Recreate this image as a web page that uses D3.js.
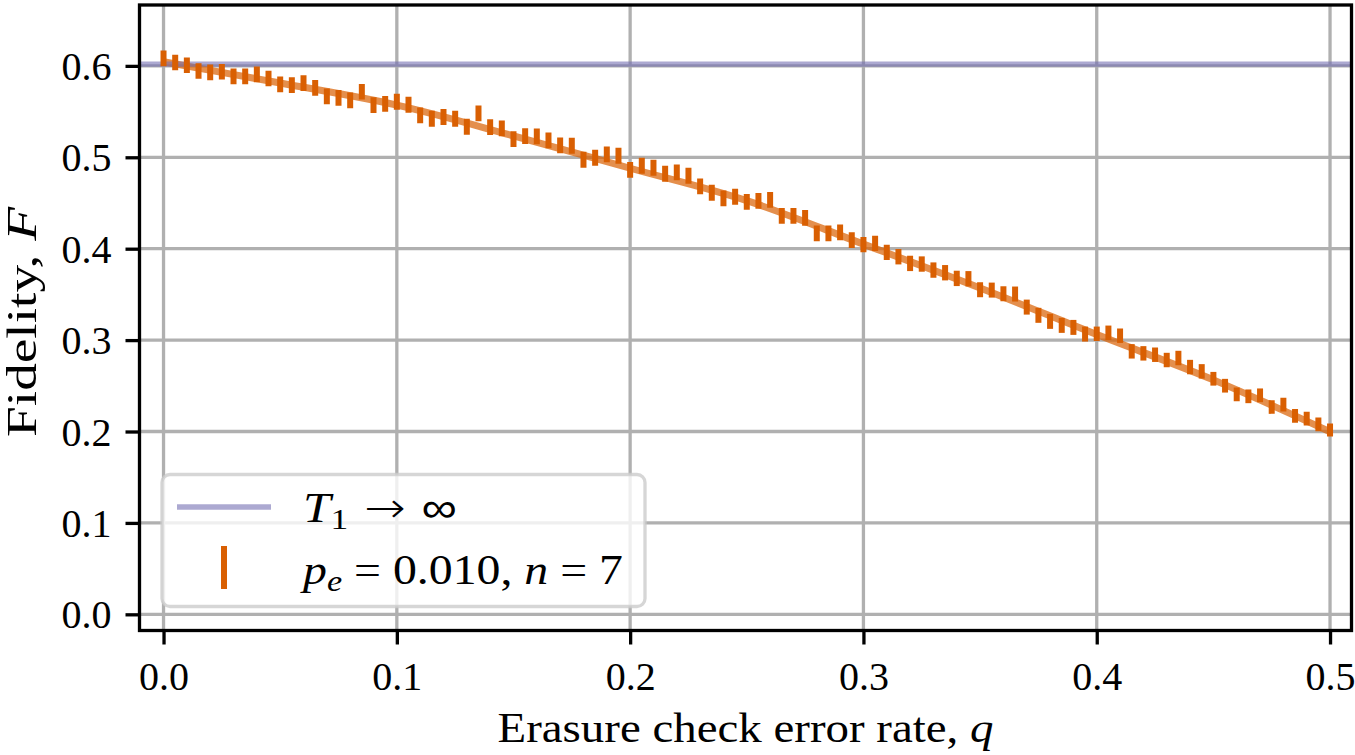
<!DOCTYPE html>
<html>
<head>
<meta charset="utf-8">
<script src="https://cdn.jsdelivr.net/npm/d3@7"></script>
<style>
  html, body { margin: 0; padding: 0; background: #fff; }
  svg { display: block; }
  text { font-family: "Liberation Serif", "Times New Roman", serif; fill: #000; }
</style>
</head>
<body>
<svg id="chart" width="1355" height="755"></svg>
<script>
// ---------------- data ----------------
const qValues = [
  0.000, 0.005, 0.010, 0.015, 0.020, 0.025, 0.030, 0.035, 0.040, 0.045,
  0.050, 0.055, 0.060, 0.065, 0.070, 0.075, 0.080, 0.085, 0.090, 0.095,
  0.100, 0.105, 0.110, 0.115, 0.120, 0.125, 0.130, 0.135, 0.140, 0.145,
  0.150, 0.155, 0.160, 0.165, 0.170, 0.175, 0.180, 0.185, 0.190, 0.195,
  0.200, 0.205, 0.210, 0.215, 0.220, 0.225, 0.230, 0.235, 0.240, 0.245,
  0.250, 0.255, 0.260, 0.265, 0.270, 0.275, 0.280, 0.285, 0.290, 0.295,
  0.300, 0.305, 0.310, 0.315, 0.320, 0.325, 0.330, 0.335, 0.340, 0.345,
  0.350, 0.355, 0.360, 0.365, 0.370, 0.375, 0.380, 0.385, 0.390, 0.395,
  0.400, 0.405, 0.410, 0.415, 0.420, 0.425, 0.430, 0.435, 0.440, 0.445,
  0.450, 0.455, 0.460, 0.465, 0.470, 0.475, 0.480, 0.485, 0.490, 0.495,
  0.500
];
const fidelity = [
  0.6082, 0.6038, 0.6008, 0.5943, 0.5929, 0.5936, 0.5885, 0.5885, 0.5907, 0.5863,
  0.5797, 0.5790, 0.5812, 0.5760, 0.5666, 0.5651, 0.5622, 0.5717, 0.5571, 0.5585,
  0.5607, 0.5574, 0.5458, 0.5421, 0.5440, 0.5421, 0.5334, 0.5480, 0.5330, 0.5316,
  0.5199, 0.5232, 0.5229, 0.5185, 0.5130, 0.5126, 0.4973, 0.4995, 0.5032, 0.5017,
  0.4862, 0.4907, 0.4885, 0.4820, 0.4835, 0.4798, 0.4682, 0.4612, 0.4550, 0.4568,
  0.4513, 0.4524, 0.4535, 0.4360, 0.4360, 0.4338, 0.4168, 0.4168, 0.4179, 0.4094,
  0.4045, 0.4058, 0.3960, 0.3912, 0.3839, 0.3832, 0.3766, 0.3737, 0.3675, 0.3671,
  0.3551, 0.3547, 0.3507, 0.3504, 0.3361, 0.3271, 0.3205, 0.3161, 0.3139, 0.3066,
  0.3069, 0.3080, 0.3048, 0.2877, 0.2855, 0.2840, 0.2782, 0.2804, 0.2705, 0.2658,
  0.2577, 0.2501, 0.2406, 0.2385, 0.2396, 0.2268, 0.2293, 0.2172, 0.2140, 0.2078,
  0.2016
];
const fidelityErr = [
  0.0085, 0.0085, 0.0085, 0.0085, 0.0085, 0.0085, 0.0085, 0.0085, 0.0085, 0.0085,
  0.0086, 0.0086, 0.0086, 0.0086, 0.0086, 0.0086, 0.0086, 0.0086, 0.0086, 0.0086,
  0.0087, 0.0087, 0.0087, 0.0087, 0.0087, 0.0087, 0.0087, 0.0087, 0.0087, 0.0087,
  0.0087, 0.0087, 0.0087, 0.0087, 0.0087, 0.0087, 0.0087, 0.0087, 0.0087, 0.0087,
  0.0087, 0.0087, 0.0087, 0.0087, 0.0087, 0.0087, 0.0087, 0.0087, 0.0087, 0.0087,
  0.0086, 0.0086, 0.0086, 0.0086, 0.0086, 0.0086, 0.0086, 0.0086, 0.0086, 0.0086,
  0.0084, 0.0084, 0.0084, 0.0084, 0.0084, 0.0084, 0.0084, 0.0084, 0.0084, 0.0084,
  0.0082, 0.0082, 0.0082, 0.0082, 0.0082, 0.0082, 0.0082, 0.0082, 0.0082, 0.0082,
  0.0079, 0.0079, 0.0079, 0.0079, 0.0079, 0.0079, 0.0079, 0.0079, 0.0079, 0.0079,
  0.0075, 0.0075, 0.0075, 0.0075, 0.0075, 0.0075, 0.0075, 0.0075, 0.0075, 0.0075,
  0.0071
];
const fitQ = [0.00, 0.05, 0.10, 0.15, 0.20, 0.25, 0.30, 0.35, 0.40, 0.45, 0.50];
const fitF = [0.6045, 0.5812, 0.5570, 0.5235, 0.4880, 0.4525, 0.4050, 0.3570, 0.3060, 0.2565, 0.1997];
const idealFidelity = 0.602;   // T1 -> infinity
const xTicks = [0.0, 0.1, 0.2, 0.3, 0.4, 0.5];
const yTicks = [0.0, 0.1, 0.2, 0.3, 0.4, 0.5, 0.6];
const xDomain = [-0.0103, 0.5092];
const yDomain = [-0.0177, 0.6666];

// ---------------- layout ----------------
const svg = d3.select("#chart");
const plot = { left: 139.5, right: 1351.5, top: 5, bottom: 630.5 };
const FS = 40;
const orange = "#d95f02";
const purple = "#7570b3";

const x = d3.scaleLinear().domain(xDomain).range([plot.left, plot.right]);
const y = d3.scaleLinear().domain(yDomain).range([plot.bottom, plot.top]);

svg.append("defs").append("clipPath").attr("id", "clip")
  .append("rect")
  .attr("x", plot.left).attr("y", plot.top)
  .attr("width", plot.right - plot.left).attr("height", plot.bottom - plot.top);

// grid
const grid = svg.append("g");
grid.selectAll("line.gx").data(xTicks).join("line")
  .attr("x1", d => x(d)).attr("x2", d => x(d))
  .attr("y1", plot.top).attr("y2", plot.bottom)
  .attr("stroke", "#b0b0b0").attr("stroke-width", 3.3);
grid.selectAll("line.gy").data(yTicks).join("line")
  .attr("y1", d => y(d)).attr("y2", d => y(d))
  .attr("x1", plot.left).attr("x2", plot.right)
  .attr("stroke", "#b0b0b0").attr("stroke-width", 3.3);

const data = svg.append("g").attr("clip-path", "url(#clip)");

// fit curve
const fitLine = d3.line()
  .x((d, i) => x(fitQ[i]))
  .y(d => y(d))
  .curve(d3.curveCatmullRom.alpha(0.5));
data.append("path")
  .attr("d", fitLine(fitF))
  .attr("fill", "none")
  .attr("stroke", orange)
  .attr("stroke-opacity", 0.7)
  .attr("stroke-width", 7);

// ideal line
data.append("line")
  .attr("x1", plot.left).attr("x2", plot.right)
  .attr("y1", y(idealFidelity)).attr("y2", y(idealFidelity))
  .attr("stroke", purple).attr("stroke-opacity", 0.6)
  .attr("stroke-width", 5.3);

// error bars
data.selectAll("line.eb").data(fidelity).join("line")
  .attr("class", "eb")
  .attr("x1", (d, i) => x(qValues[i])).attr("x2", (d, i) => x(qValues[i]))
  .attr("y1", (d, i) => y(d - fidelityErr[i]))
  .attr("y2", (d, i) => y(d + fidelityErr[i]))
  .attr("stroke", orange)
  .attr("stroke-width", 6);

// axes
const xAxis = d3.axisBottom(x).tickValues(xTicks).tickFormat(d3.format(".1f"))
  .tickSize(14).tickPadding(13);
const yAxis = d3.axisLeft(y).tickValues(yTicks).tickFormat(d3.format(".1f"))
  .tickSize(14).tickPadding(14);

const gx = svg.append("g").attr("transform", `translate(0,${plot.bottom})`).call(xAxis);
const gy = svg.append("g").attr("transform", `translate(${plot.left},0)`).call(yAxis);
[gx, gy].forEach(g => {
  g.select(".domain").remove();
  g.selectAll(".tick line").attr("stroke", "#000").attr("stroke-width", 3.3);
  g.selectAll(".tick text")
    .attr("font-size", FS).attr("fill", "#000");
});
gx.selectAll(".tick text").attr("dy", "0.80em");
gy.selectAll(".tick text").attr("dy", "0.34em");

// frame
svg.append("rect")
  .attr("x", plot.left).attr("y", plot.top)
  .attr("width", plot.right - plot.left).attr("height", plot.bottom - plot.top)
  .attr("fill", "none").attr("stroke", "#000").attr("stroke-width", 3.3);

// axis labels
const xl = svg.append("text")
  .attr("x", (plot.left + plot.right) / 2).attr("y", 742)
  .attr("text-anchor", "middle").attr("font-size", 42)
  .attr("textLength", 496).attr("lengthAdjust", "spacingAndGlyphs");
xl.append("tspan").text("Erasure check error rate, ");
xl.append("tspan").attr("font-style", "italic").text("q");

const yl = svg.append("text")
  .attr("transform", `translate(36,322) rotate(-90)`)
  .attr("text-anchor", "middle").attr("font-size", 42)
  .attr("textLength", 230).attr("lengthAdjust", "spacingAndGlyphs");
yl.append("tspan").text("Fidelity, ");
yl.append("tspan").attr("font-style", "italic").text("F");

// legend
const lg = svg.append("g");
lg.append("rect")
  .attr("x", 162).attr("y", 474.5).attr("width", 483).attr("height", 132)
  .attr("rx", 8).attr("ry", 8)
  .attr("fill", "#fff").attr("fill-opacity", 0.8)
  .attr("stroke", "#cccccc").attr("stroke-opacity", 0.8).attr("stroke-width", 3.3);
lg.append("line")
  .attr("x1", 177).attr("x2", 271).attr("y1", 507).attr("y2", 507)
  .attr("stroke", purple).attr("stroke-opacity", 0.6).attr("stroke-width", 5.3);
lg.append("line")
  .attr("x1", 224).attr("x2", 224).attr("y1", 546).attr("y2", 589)
  .attr("stroke", orange).attr("stroke-width", 6);

const t1 = lg.append("text").attr("x", 303).attr("y", 522).attr("font-size", 42)
  .attr("textLength", 154).attr("lengthAdjust", "spacingAndGlyphs");
t1.append("tspan").attr("font-style", "italic").text("T");
t1.append("tspan").attr("font-size", 30).attr("dy", 7).text("1");
t1.append("tspan").attr("dy", -7).style("font-family", "'DejaVu Sans', sans-serif")
  .style("font-weight", 200).text(" \u2192 \u221E");

const t2 = lg.append("text").attr("x", 303).attr("y", 584).attr("font-size", 42)
  .attr("textLength", 320).attr("lengthAdjust", "spacingAndGlyphs");
t2.append("tspan").attr("font-style", "italic").text("p");
t2.append("tspan").attr("font-style", "italic").attr("font-size", 30).attr("dy", 7).text("e");
t2.append("tspan").attr("dy", -7).text(" = 0.010, ");
t2.append("tspan").attr("font-style", "italic").text("n");
t2.append("tspan").text(" = 7");
</script>
</body>
</html>
